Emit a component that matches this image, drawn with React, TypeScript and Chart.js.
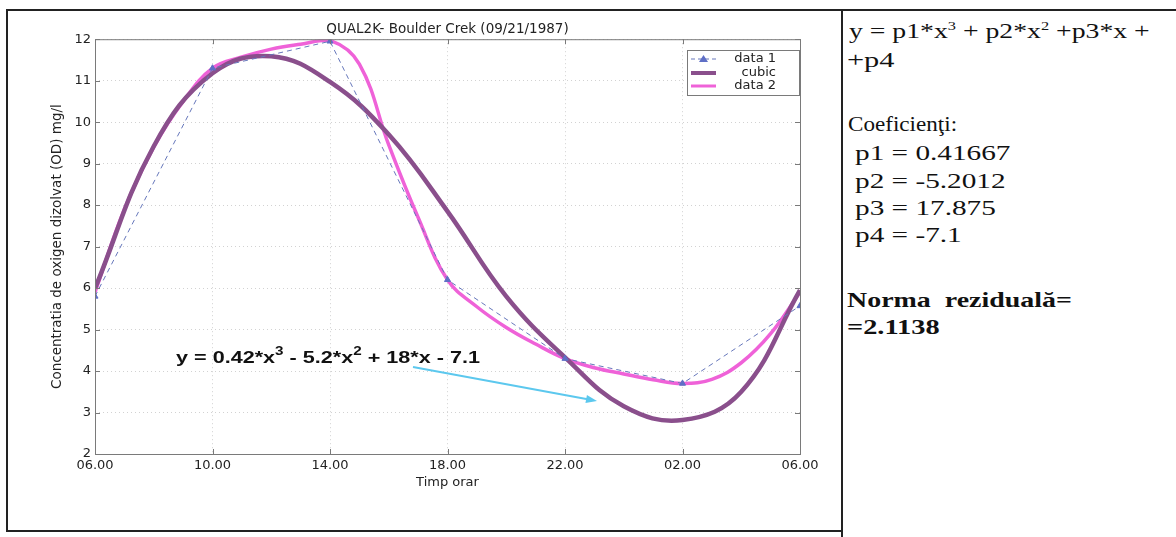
import React, { useEffect, useRef } from "react";
import { Chart, registerables } from "chart.js";

Chart.register(...registerables);

// ---- data ----
const xTickLabels = ["06.00", "10.00", "14.00", "18.00", "22.00", "02.00", "06.00"];
const yTickValues = [2, 3, 4, 5, 6, 7, 8, 9, 10, 11, 12];

// data 1 : measured points (hours elapsed since 06.00)
const data1Hours = [0, 4, 8, 12, 16, 20, 24];
const data1Values = [5.8, 11.3, 11.95, 6.2, 4.3, 3.7, 5.57];

// cubic fit curve (every 2 hours)
const cubicHours = [0, 2, 4, 6, 8, 10, 12, 14, 16, 18, 20, 22, 24];
const cubicValues = [5.99, 9.42, 11.18, 11.59, 10.97, 9.7, 7.85, 5.8, 4.33, 3.15, 2.82, 3.5, 5.95];

// data 2 : smooth interpolating curve (every hour)
const data2Hours = [0, 1, 2, 3, 4, 5, 6, 7, 8, 9, 10, 11, 12, 13, 14, 15, 16, 17, 18, 19, 20, 21, 22, 23, 24];
const data2Values = [5.9, 7.9, 9.4, 10.5, 11.3, 11.57, 11.76, 11.88, 11.97, 11.4, 9.45, 7.7, 6.2, 5.55, 5.05, 4.65, 4.3, 4.08, 3.93, 3.79, 3.7, 3.8, 4.2, 4.9, 5.9];

const chartTitle = "QUAL2K- Boulder Crek (09/21/1987)";
const yTitle = "Concentratia de oxigen dizolvat (OD) mg/l";
const xTitle = "Timp orar";
const legendLabels = ["data 1", "cubic", "data 2"];

const C_DATA1 = "#6677bb";
const C_CUBIC = "#8a4f8c";
const C_DATA2 = "#ef62d8";
const C_ARROW = "#5cc8ee";

const toPts = (xs: number[], ys: number[]) => xs.map((x, i) => ({ x, y: ys[i] }));

const decorPlugin = {
  id: "decor",
  afterDatasetsDraw(chart: any) {
    const { ctx, chartArea: a, scales } = chart;
    const xs = scales.x;
    const ys = scales.y;
    ctx.save();
    // plot box
    ctx.strokeStyle = "#7a7a7a";
    ctx.lineWidth = 1;
    ctx.setLineDash([]);
    ctx.strokeRect(a.left + 0.5, a.top + 0.5, a.right - a.left, a.bottom - a.top);
    // inward ticks
    ctx.beginPath();
    for (let h = 0; h <= 24; h += 4) {
      const px = Math.round(xs.getPixelForValue(h)) + 0.5;
      ctx.moveTo(px, a.bottom);
      ctx.lineTo(px, a.bottom - 5);
      ctx.moveTo(px, a.top);
      ctx.lineTo(px, a.top + 5);
    }
    for (const v of yTickValues) {
      const py = Math.round(ys.getPixelForValue(v)) + 0.5;
      ctx.moveTo(a.left, py);
      ctx.lineTo(a.left + 5, py);
      ctx.moveTo(a.right, py);
      ctx.lineTo(a.right - 5, py);
    }
    ctx.stroke();

    // legend
    const lx = 687, ly = 50, lw = 112, lh = 45;
    ctx.fillStyle = "#ffffff";
    ctx.fillRect(lx, ly, lw, lh);
    ctx.strokeStyle = "#7a7a7a";
    ctx.strokeRect(lx + 0.5, ly + 0.5, lw, lh);
    const rows = [59, 73, 86];
    ctx.font = "13px 'DejaVu Sans'";
    ctx.textAlign = "right";
    ctx.textBaseline = "middle";
    ctx.fillStyle = "#222";
    legendLabels.forEach((t, i) => ctx.fillText(t, 776, rows[i]));
    // sample data 1
    ctx.strokeStyle = C_DATA1;
    ctx.lineWidth = 1;
    ctx.setLineDash([4, 3]);
    ctx.beginPath();
    ctx.moveTo(691, rows[0]);
    ctx.lineTo(716, rows[0]);
    ctx.stroke();
    ctx.setLineDash([]);
    ctx.fillStyle = "#5f6fc6";
    ctx.beginPath();
    ctx.moveTo(703.5, rows[0] - 4);
    ctx.lineTo(708, rows[0] + 3);
    ctx.lineTo(699, rows[0] + 3);
    ctx.closePath();
    ctx.fill();
    // sample cubic
    ctx.strokeStyle = C_CUBIC;
    ctx.lineWidth = 4;
    ctx.beginPath();
    ctx.moveTo(691, rows[1]);
    ctx.lineTo(716, rows[1]);
    ctx.stroke();
    // sample data 2
    ctx.strokeStyle = C_DATA2;
    ctx.lineWidth = 3;
    ctx.beginPath();
    ctx.moveTo(691, rows[2]);
    ctx.lineTo(716, rows[2]);
    ctx.stroke();

    // equation annotation (horizontally stretched like the scan)
    ctx.fillStyle = "#111";
    ctx.textAlign = "left";
    ctx.textBaseline = "alphabetic";
    const parts: [string, boolean][] = [
      ["y = 0.42*x", false],
      ["3", true],
      [" - 5.2*x", false],
      ["2", true],
      [" + 18*x - 7.1", false],
    ];
    const fontFor = (sup: boolean) => (sup ? "bold 12px 'Liberation Sans'" : "bold 17px 'Liberation Sans'");
    let total = 0;
    for (const [t, sup] of parts) {
      ctx.font = fontFor(sup);
      total += ctx.measureText(t).width;
    }
    const k = 304 / total;
    const eb = 363;
    ctx.translate(176, eb);
    ctx.scale(k, 1);
    let ex = 0;
    for (const [t, sup] of parts) {
      ctx.font = fontFor(sup);
      ctx.fillText(t, ex, sup ? -8 : 0);
      ex += ctx.measureText(t).width;
    }
    ctx.setTransform(1, 0, 0, 1, 0, 0);

    // arrow
    const x1 = 413, y1 = 367, x2 = 597, y2 = 401;
    ctx.strokeStyle = C_ARROW;
    ctx.fillStyle = C_ARROW;
    ctx.lineWidth = 2;
    ctx.beginPath();
    ctx.moveTo(x1, y1);
    ctx.lineTo(x2 - 8, y2 - 1.5);
    ctx.stroke();
    const ang = Math.atan2(y2 - y1, x2 - x1);
    ctx.beginPath();
    ctx.moveTo(x2, y2);
    ctx.lineTo(x2 - 11 * Math.cos(ang) + 4 * Math.sin(ang), y2 - 11 * Math.sin(ang) - 4 * Math.cos(ang));
    ctx.lineTo(x2 - 11 * Math.cos(ang) - 4 * Math.sin(ang), y2 - 11 * Math.sin(ang) + 4 * Math.cos(ang));
    ctx.closePath();
    ctx.fill();
    ctx.restore();
  },
};

function QualChart() {
  const ref = useRef<HTMLCanvasElement | null>(null);
  useEffect(() => {
    if (!ref.current) return;
    const chart = new Chart(ref.current, {
      type: "line",
      data: {
        datasets: [
          {
            label: legendLabels[0],
            data: toPts(data1Hours, data1Values),
            borderColor: C_DATA1,
            borderWidth: 1,
            borderDash: [5, 4],
            pointStyle: "triangle",
            pointRadius: 3.5,
            pointBackgroundColor: "#5f6fc6",
            pointBorderColor: "#5f6fc6",
            tension: 0,
            order: 0,
          },
          {
            label: legendLabels[1],
            data: toPts(cubicHours, cubicValues),
            borderColor: C_CUBIC,
            borderWidth: 4.5,
            pointRadius: 0,
            tension: 0.4,
            order: 1,
          },
          {
            label: legendLabels[2],
            data: toPts(data2Hours, data2Values),
            borderColor: C_DATA2,
            borderWidth: 3.5,
            pointRadius: 0,
            tension: 0.4,
            order: 2,
          },
        ],
      },
      plugins: [decorPlugin],
      options: {
        responsive: false,
        animation: false,
        events: [],
        layout: { padding: { left: 0, right: 42, top: 21, bottom: 0 } },
        plugins: {
          legend: { display: false },
          tooltip: { enabled: false },
          title: {
            display: true,
            fullSize: false,
            text: chartTitle,
            color: "#222",
            font: { family: "'DejaVu Sans'", size: 13.5, weight: "normal" },
            padding: { top: 0, bottom: 2 },
          },
        },
        scales: {
          x: {
            type: "linear",
            min: 0,
            max: 24,
            afterFit: (s: any) => {
              s.height = 83;
            },
            afterBuildTicks: (s: any) => {
              s.ticks = [0, 4, 8, 12, 16, 20, 24].map((v) => ({ value: v }));
            },
            ticks: {
              callback: (v: any) => xTickLabels[Math.round(Number(v) / 4)],
              color: "#222",
              font: { family: "'DejaVu Sans'", size: 13 },
              padding: 4,
              maxRotation: 0,
              autoSkip: false,
            },
            grid: { color: "#d2d2d2", drawTicks: false, lineWidth: 1 },
            border: { display: false, dash: [1, 3] },
            title: {
              display: true,
              text: xTitle,
              color: "#222",
              font: { family: "'DejaVu Sans'", size: 13 },
              padding: { top: 0, bottom: 47 },
            },
          },
          y: {
            min: 2,
            max: 12,
            afterFit: (s: any) => {
              s.width = 95;
            },
            ticks: {
              stepSize: 1,
              color: "#222",
              font: { family: "'DejaVu Sans'", size: 13 },
              padding: 4,
            },
            grid: { color: "#d2d2d2", drawTicks: false, lineWidth: 1 },
            border: { display: false, dash: [1, 3] },
            title: {
              display: true,
              text: yTitle,
              color: "#222",
              font: { family: "'DejaVu Sans'", size: 13.5 },
              padding: { top: 49, bottom: 0 },
            },
          },
        },
      },
    } as any);
    return () => chart.destroy();
  }, []);
  return (
    <canvas
      ref={ref}
      width={842}
      height={537}
      style={{ position: "absolute", left: 0, top: 0, width: 842, height: 537 }}
    />
  );
}

const serif = "'Liberation Serif', 'Times New Roman', serif";

function PanelLine(props: { left: number; top: number; k: number; bold?: boolean; children: React.ReactNode }) {
  return (
    <div
      style={{
        position: "absolute",
        left: props.left,
        top: props.top,
        fontFamily: serif,
        fontSize: 22,
        lineHeight: "22px",
        fontWeight: props.bold ? "bold" : "normal",
        whiteSpace: "pre",
        color: "#111",
        transform: `scaleX(${props.k})`,
        transformOrigin: "0 0",
      }}
    >
      {props.children}
    </div>
  );
}

const supStyle: React.CSSProperties = { fontSize: 13, verticalAlign: "8px", lineHeight: 0 };

export default function App() {
  return (
    <div
      style={{
        position: "fixed",
        left: 0,
        top: 0,
        width: 1176,
        height: 537,
        background: "#fff",
        overflow: "hidden",
      }}
    >
      <QualChart />
      {/* frame lines */}
      <div style={{ position: "absolute", left: 6, top: 9, width: 1170, height: 2, background: "#222" }} />
      <div style={{ position: "absolute", left: 6, top: 9, width: 2, height: 523, background: "#222" }} />
      <div style={{ position: "absolute", left: 6, top: 530, width: 836, height: 2, background: "#222" }} />
      <div style={{ position: "absolute", left: 841, top: 9, width: 2, height: 528, background: "#222" }} />
      {/* right panel text */}
      <PanelLine left={849} top={20} k={1.26}>
        y = p1*x<sup style={supStyle}>3</sup> + p2*x<sup style={supStyle}>2</sup> +p3*x +
      </PanelLine>
      <PanelLine left={847} top={49} k={1.38}>+p4</PanelLine>
      <PanelLine left={848} top={113} k={1.05}>Coeficienţi:</PanelLine>
      <PanelLine left={855} top={142} k={1.33}>p1 = 0.41667</PanelLine>
      <PanelLine left={855} top={170} k={1.33}>p2 = -5.2012</PanelLine>
      <PanelLine left={855} top={197} k={1.33}>p3 = 17.875</PanelLine>
      <PanelLine left={855} top={224} k={1.33}>p4 = -7.1</PanelLine>
      <PanelLine left={847} top={289} k={1.27} bold>Norma  reziduală=</PanelLine>
      <PanelLine left={847} top={316} k={1.29} bold>=2.1138</PanelLine>
    </div>
  );
}
